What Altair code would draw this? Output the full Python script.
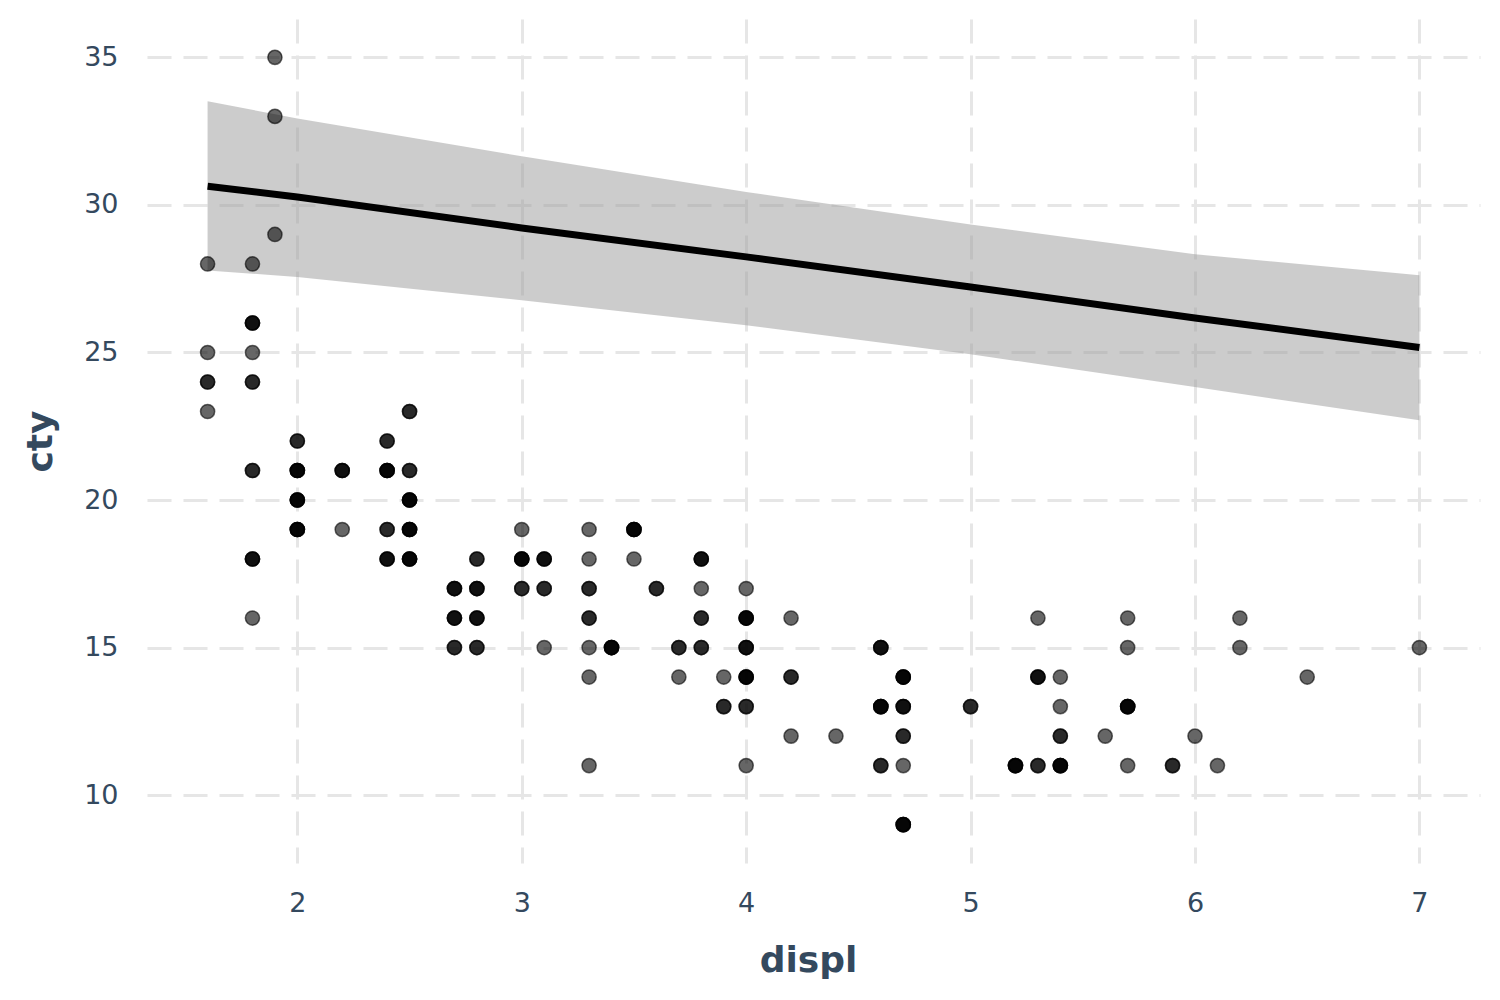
import altair as alt
import pandas as pd

# ---- scatter data (unique displ/cty positions and how many cars sit on each) ----
pt_x = [1.6, 1.6, 1.6, 1.6,
        1.8, 1.8, 1.8, 1.8, 1.8, 1.8, 1.8,
        1.9, 1.9, 1.9,
        2.0, 2.0, 2.0, 2.0,
        2.2, 2.2,
        2.4, 2.4, 2.4, 2.4,
        2.5, 2.5, 2.5, 2.5, 2.5,
        2.7, 2.7, 2.7,
        2.8, 2.8, 2.8, 2.8,
        3.0, 3.0, 3.0,
        3.1, 3.1, 3.1,
        3.3, 3.3, 3.3, 3.3, 3.3, 3.3, 3.3,
        3.4,
        3.5, 3.5,
        3.6,
        3.7, 3.7,
        3.8, 3.8, 3.8, 3.8,
        3.9, 3.9,
        4.0, 4.0, 4.0, 4.0, 4.0, 4.0,
        4.2, 4.2, 4.2,
        4.4,
        4.6, 4.6, 4.6,
        4.7, 4.7, 4.7, 4.7, 4.7,
        5.0,
        5.2,
        5.3, 5.3, 5.3,
        5.4, 5.4, 5.4, 5.4,
        5.6,
        5.7, 5.7, 5.7, 5.7,
        5.9,
        6.0,
        6.1,
        6.2, 6.2,
        6.5,
        7.0]
pt_y = [28, 25, 24, 23,
        28, 26, 25, 24, 21, 18, 16,
        35, 33, 29,
        22, 21, 20, 19,
        21, 19,
        22, 21, 19, 18,
        23, 21, 20, 19, 18,
        17, 16, 15,
        18, 17, 16, 15,
        19, 18, 17,
        18, 17, 15,
        19, 18, 17, 16, 15, 14, 11,
        15,
        19, 18,
        17,
        15, 14,
        18, 17, 16, 15,
        14, 13,
        17, 16, 15, 14, 13, 11,
        16, 14, 12,
        12,
        15, 13, 11,
        14, 13, 12, 11, 9,
        13,
        11,
        16, 14, 11,
        14, 13, 12, 11,
        12,
        16, 15, 13, 11,
        11,
        12,
        11,
        16, 15,
        14,
        15]
pt_n = [1, 1, 2, 1,
        1, 3, 1, 2, 2, 3, 1,
        1, 1, 1,
        2, 4, 4, 4,
        3, 1,
        2, 4, 2, 3,
        2, 2, 4, 4, 4,
        3, 3, 2,
        2, 3, 3, 2,
        1, 4, 2,
        3, 2, 1,
        1, 1, 2, 2, 1, 1, 1,
        4,
        4, 1,
        2,
        2, 1,
        3, 1, 2, 2,
        1, 2,
        1, 4, 3, 4, 2, 1,
        1, 2, 1,
        1,
        3, 4, 2,
        4, 3, 2, 1, 4,
        2,
        4,
        1, 3, 2,
        1, 1, 2, 4,
        1,
        1, 1, 4, 1,
        2,
        1,
        1,
        1, 1,
        1,
        1]

# ---- smoothing line and its band ----
fit_x = [1.6, 2.0, 3.0, 4.0, 5.0, 6.0, 7.0]
fit_y = [30.63, 30.27, 29.22, 28.24, 27.22, 26.17, 25.17]
fit_lo = [27.78, 27.56, 26.77, 25.92, 24.94, 23.83, 22.70]
fit_hi = [33.51, 32.93, 31.65, 30.44, 29.34, 28.33, 27.62]

x_ticks = [2, 3, 4, 5, 6, 7]
y_ticks = [10, 15, 20, 25, 30, 35]

rows = []
for x, y, n in zip(pt_x, pt_y, pt_n):
    for _ in range(n):
        rows.append({"displ": x, "cty": y})
pts = pd.DataFrame(rows)
fit = pd.DataFrame({"displ": fit_x, "cty": fit_y, "lo": fit_lo, "hi": fit_hi})

TXT = "#34495e"
FONT = "DejaVu Sans"

xscale = alt.Scale(domain=[1.33, 7.27], nice=False, zero=False)
yscale = alt.Scale(domain=[7.7, 36.3], nice=False, zero=False)

xaxis = alt.Axis(values=x_ticks, format="d", title="displ", ticks=False, domain=False,
                 labelFontSize=27, labelColor=TXT, labelFont=FONT, labelPadding=27,
                 titleFontSize=36, titleFont=FONT, titleColor=TXT, titleFontWeight="bold",
                 titleX=661, titleY=97, titleAlign="center", titleBaseline="middle",
                 grid=True, gridColor="#e6e6e6", gridWidth=3, gridDash=[24, 12])
yaxis = alt.Axis(values=y_ticks, format="d", title="cty", ticks=False, domain=False,
                 labelFontSize=27, labelColor=TXT, labelFont=FONT, labelPadding=29,
                 titleFontSize=36, titleFont=FONT, titleColor=TXT, titleFontWeight="bold",
                 titleX=-107, titleY=422, titleAlign="center", titleBaseline="middle",
                 titleAngle=270,
                 grid=True, gridColor="#e6e6e6", gridWidth=3, gridDash=[24, 12])

band = alt.Chart(fit).mark_area(color="#999999", opacity=0.5).encode(
    x=alt.X("displ:Q", scale=xscale, axis=xaxis),
    y=alt.Y("lo:Q", scale=yscale, axis=yaxis),
    y2="hi:Q",
)

points = alt.Chart(pts).mark_circle(
    size=200, color="black", fillOpacity=0.6, stroke="black",
    strokeOpacity=0.6, strokeWidth=1.5, opacity=1
).encode(
    x=alt.X("displ:Q", scale=xscale),
    y=alt.Y("cty:Q", scale=yscale),
)

line = alt.Chart(fit).mark_line(color="black", strokeWidth=7).encode(
    x=alt.X("displ:Q", scale=xscale),
    y=alt.Y("cty:Q", scale=yscale),
)

chart = alt.layer(band, points, line).properties(
    width=1333, height=844,
    autosize=alt.AutoSizeParams(type="none"),
    padding={"left": 139, "top": 11, "right": 12, "bottom": 120},
).configure_view(stroke=None)

chart.save("out.html", embed_options={"renderer": "svg", "actions": False})
